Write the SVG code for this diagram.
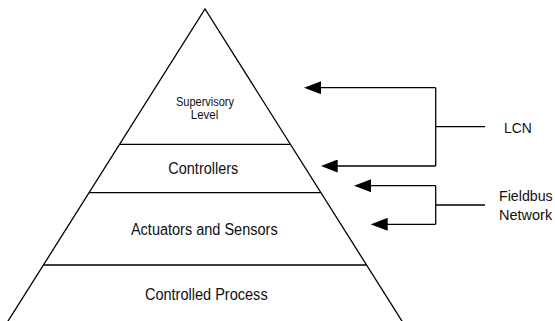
<svg xmlns="http://www.w3.org/2000/svg" width="555" height="321" viewBox="0 0 555 321">
<style>
  .ln { stroke: #000; stroke-width: 1.3; fill: none; }
  .lbl { font-family: "Liberation Sans", Arial, sans-serif; fill: #111; text-anchor: middle; }
  .side { font-family: "Liberation Sans", Arial, sans-serif; fill: #111; }
</style>
<defs>
  <marker id="ah" viewBox="0 0 17 13" refX="13" refY="6.5" markerWidth="17" markerHeight="13" markerUnits="userSpaceOnUse" orient="auto">
    <path d="M0,0 L17,6.5 L0,13 z" fill="#000"/>
  </marker>
</defs>
<rect width="555" height="321" fill="#fff"/>
<g id="pyramid">
  <polyline class="ln" points="2.4,330 205,9 407.6,330"/>
</g>
<g id="supervisory-level">
  <text class="lbl" x="205" y="105.5" font-size="12" textLength="58" lengthAdjust="spacingAndGlyphs">Supervisory</text>
  <text class="lbl" x="204.5" y="118.5" font-size="12" textLength="27.5" lengthAdjust="spacingAndGlyphs">Level</text>
</g>
<g id="controllers">
  <line class="ln" x1="119.6" y1="144.3" x2="290.4" y2="144.3"/>
  <text class="lbl" x="203.3" y="174.2" font-size="16" textLength="70" lengthAdjust="spacingAndGlyphs">Controllers</text>
</g>
<g id="actuators-sensors">
  <line class="ln" x1="89.1" y1="192.7" x2="320.9" y2="192.7"/>
  <text class="lbl" x="204.3" y="234.5" font-size="16" textLength="146.7" lengthAdjust="spacingAndGlyphs">Actuators and Sensors</text>
</g>
<g id="controlled-process">
  <line class="ln" x1="43.5" y1="265" x2="366.5" y2="265"/>
  <text class="lbl" x="206.3" y="299.5" font-size="16" textLength="122.7" lengthAdjust="spacingAndGlyphs">Controlled Process</text>
</g>
<g id="lcn">
  <text class="side" x="504" y="133" font-size="14" textLength="27.7" lengthAdjust="spacingAndGlyphs">LCN</text>
</g>
<g id="fieldbus-network">
  <text class="side" x="499" y="200.5" font-size="14.5" textLength="53.7" lengthAdjust="spacingAndGlyphs">Fieldbus</text>
  <text class="side" x="499" y="220" font-size="14.5">Network</text>
</g>
<g id="connectors">
  <path class="ln" d="M435.7,87.7 L308,87.7" marker-end="url(#ah)"/>
  <path class="ln" d="M435.7,166 L324.7,166" marker-end="url(#ah)"/>
  <line class="ln" x1="435.7" y1="87.7" x2="435.7" y2="166"/>
  <line class="ln" x1="435.7" y1="126.7" x2="485" y2="126.7"/>
  <path class="ln" d="M435.7,185.7 L358,185.7" marker-end="url(#ah)"/>
  <path class="ln" d="M435.7,224.3 L374.7,224.3" marker-end="url(#ah)"/>
  <line class="ln" x1="435.7" y1="185.7" x2="435.7" y2="224.3"/>
  <line class="ln" x1="435.7" y1="205" x2="485" y2="205"/>
</g>
</svg>
